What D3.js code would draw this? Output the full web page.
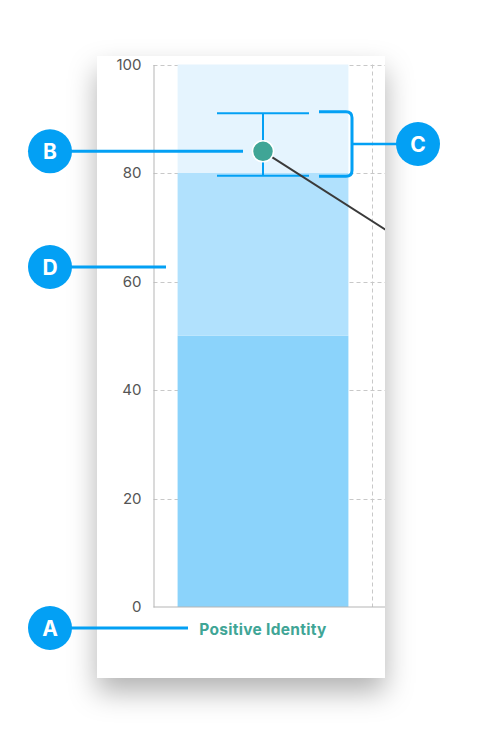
<!DOCTYPE html>
<html>
<head>
<meta charset="utf-8">
<script src="https://cdn.jsdelivr.net/npm/d3@7"></script>
<style>
html,body{margin:0;padding:0;background:#fff;}
svg{display:block;font-family:Inter,"Noto Sans",sans-serif;}
</style>
</head>
<body>
<svg id="chart" width="484" height="735"></svg>
<script>
// ---- data ----
const categories = ["Positive Identity"];
const bandLimits = [50, 80, 100];          // qualitative ranges (stacked)
const bandColors = ["#8bd3fb", "#b1e1fd", "#e5f4fe"];
const pointValues = [84];
const errorLow = [79.5];
const errorHigh = [91];
const yTicks = [0, 20, 40, 60, 80, 100];
const callouts = ["A", "B", "C", "D"];

const svg = d3.select("#chart");
const blue = "#03a0f4";
const teal = "#40a596";

// card
const card = {x: 97, y: 56, w: 288, h: 622};
const defs = svg.append("defs");
const f = defs.append("filter").attr("id", "sh").attr("x", "-40%").attr("y", "-20%").attr("width", "180%").attr("height", "140%");
f.append("feDropShadow").attr("dx", 0).attr("dy", 14).attr("stdDeviation", 14).attr("flood-color", "#000").attr("flood-opacity", 0.3);
defs.append("clipPath").attr("id", "cardclip").append("rect")
  .attr("x", card.x).attr("y", card.y).attr("width", card.w).attr("height", card.h);

svg.append("rect").attr("x", card.x).attr("y", card.y).attr("width", card.w).attr("height", card.h)
  .attr("fill", "#fff").attr("filter", "url(#sh)");

const g = svg.append("g").attr("clip-path", "url(#cardclip)");

const y = d3.scaleLinear().domain([0, 100]).range([607, 64.5]);
const x = d3.scaleBand().domain(categories).range([153.5, 372.5]).paddingInner(0.1236).paddingOuter(0.1236);
const xRight = 420;

// gridlines
g.selectAll(".hg").data(yTicks.filter(d => d > 0)).join("line")
  .attr("x1", 153.5).attr("x2", xRight).attr("y1", d => Math.round(y(d)) + 0.5).attr("y2", d => Math.round(y(d)) + 0.5)
  .attr("stroke", "#c8c8c8").attr("stroke-dasharray", "4,3").attr("stroke-width", 1);
g.append("line").attr("x1", 372.5).attr("x2", 372.5).attr("y1", y(100)).attr("y2", y(0))
  .attr("stroke", "#c8c8c8").attr("stroke-dasharray", "4,3");

// stacked bands
const bandData = bandLimits.map((v, i) => ({lo: i ? bandLimits[i - 1] : 0, hi: v, c: bandColors[i]}));
g.selectAll(".band").data(bandData).join("rect")
  .attr("x", x(categories[0])).attr("width", x.bandwidth())
  .attr("y", d => y(d.hi)).attr("height", d => y(d.lo) - y(d.hi))
  .attr("fill", d => d.c);

// axes
const yAxis = d3.axisLeft(y).tickValues(yTicks).tickSize(0).tickPadding(12);
const ya = g.append("g").attr("transform", "translate(153.5,0)").call(yAxis);
ya.select(".domain").attr("stroke", "#b5b5b5");
ya.selectAll("text").attr("font-size", 15).attr("fill", "#555").attr("font-family", "Inter, sans-serif");
g.append("line").attr("x1", 153.5).attr("x2", xRight).attr("y1", 607).attr("y2", 607).attr("stroke", "#b5b5b5");

const cx = x(categories[0]) + x.bandwidth() / 2;

// x label
g.append("text").attr("x", cx).attr("y", 634.5).attr("text-anchor", "middle")
  .attr("font-size", 15.5).attr("letter-spacing", 0.3).attr("font-weight", 700).attr("fill", teal).text(categories[0]);

// error bar
const capHalf = 46;
const eb = g.append("g").attr("stroke", blue).attr("stroke-width", 2);
eb.append("line").attr("x1", cx).attr("x2", cx).attr("y1", y(errorHigh[0])).attr("y2", y(errorLow[0]));
eb.append("line").attr("x1", cx - capHalf).attr("x2", cx + capHalf).attr("y1", y(errorHigh[0])).attr("y2", y(errorHigh[0]));
eb.append("line").attr("x1", cx - capHalf).attr("x2", cx + capHalf).attr("y1", y(errorLow[0])).attr("y2", y(errorLow[0]));

// connector line from point
g.append("line").attr("x1", cx).attr("y1", y(pointValues[0])).attr("x2", cx + 200).attr("y2", y(pointValues[0]) + 200 * 0.64)
  .attr("stroke", "#3a3a3a").attr("stroke-width", 2);

// point
g.append("circle").attr("cx", cx).attr("cy", y(pointValues[0])).attr("r", 10.5)
  .attr("fill", teal).attr("stroke", "#fff").attr("stroke-width", 1.5);

// ---- callouts ----
const ann = svg.append("g");
const r = 22;
function bubble(px, py, label) {
  ann.append("circle").attr("cx", px).attr("cy", py).attr("r", r).attr("fill", blue);
  ann.append("text").attr("x", px).attr("y", py + 7.5).attr("text-anchor", "middle")
    .attr("font-size", 21).attr("font-weight", 700).attr("fill", "#fff").text(label);
}
// A
ann.append("line").attr("x1", 60).attr("x2", 188).attr("y1", 628).attr("y2", 628).attr("stroke", blue).attr("stroke-width", 3);
bubble(50, 628, callouts[0]);
// B
const by = y(pointValues[0]);
ann.append("line").attr("x1", 60).attr("x2", 243).attr("y1", by).attr("y2", by).attr("stroke", blue).attr("stroke-width", 3);
bubble(50, by, callouts[1]);
// C bracket
const t = y(errorHigh[0]) - 1.5, b = y(errorLow[0]) + 0.5, bx = 352, rr = 6;
ann.append("path")
  .attr("d", `M319,${t} H${bx - rr} Q${bx},${t} ${bx},${t + rr} V${b - rr} Q${bx},${b} ${bx - rr},${b} H319`)
  .attr("fill", "none").attr("stroke", blue).attr("stroke-width", 3);
const cy = (t + b) / 2;
ann.append("line").attr("x1", bx).attr("x2", 410).attr("y1", cy).attr("y2", cy).attr("stroke", blue).attr("stroke-width", 2.5);
bubble(418, cy, callouts[2]);
// D
ann.append("line").attr("x1", 60).attr("x2", 166).attr("y1", 267).attr("y2", 267).attr("stroke", blue).attr("stroke-width", 3);
bubble(50, 267, callouts[3]);
</script>
</body>
</html>
